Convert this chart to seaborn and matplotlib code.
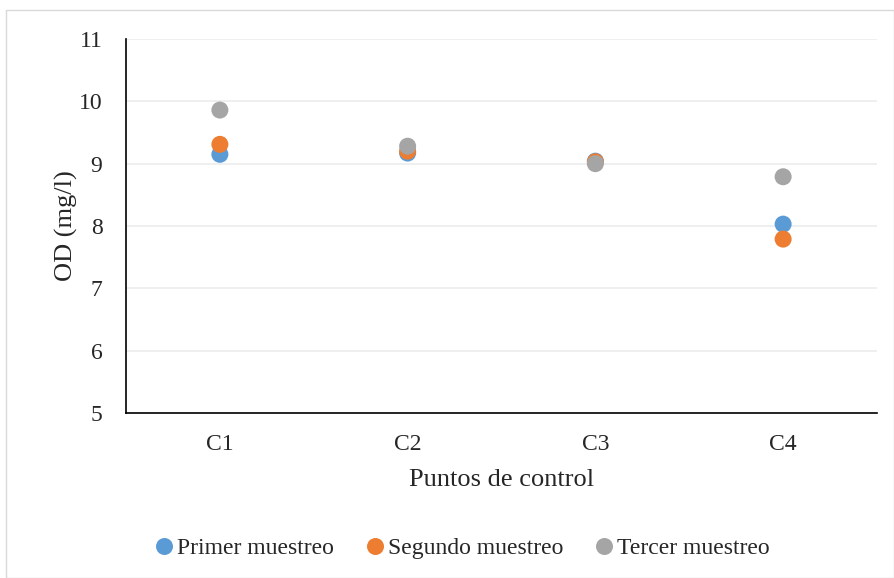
import matplotlib
matplotlib.use("Agg")
import matplotlib.pyplot as plt
import seaborn as sns
import pandas as pd
from matplotlib.patches import Rectangle

# Dissolved oxygen per control point and sampling campaign
puntos = ["C1", "C2", "C3", "C4"]
primer = [9.15, 9.17, 9.04, 8.03]
segundo = [9.31, 9.20, 9.03, 7.79]
tercer = [9.86, 9.28, 9.00, 8.79]
series = ["Primer muestreo", "Segundo muestreo", "Tercer muestreo"]
colores = ["#5B9BD5", "#ED7D31", "#A5A5A5"]
y_ticks = [5, 6, 7, 8, 9, 10, 11]

rows = []
for nombre, vals in zip(series, [primer, segundo, tercer]):
    for i, (p, v) in enumerate(zip(puntos, vals)):
        rows.append({"pos": i + 1, "punto": p, "OD": v, "serie": nombre})
df = pd.DataFrame(rows)

sns.set_theme(style="white")
plt.rcParams["font.family"] = ["Liberation Serif", "DejaVu Serif"]

fig = plt.figure(figsize=(8.94, 5.78), dpi=100)
W, H = 894, 578
ax = fig.add_axes([126 / W, 1 - 413 / H, (877 - 126) / W, (413 - 39) / H])

sns.scatterplot(data=df, x="pos", y="OD", hue="serie", hue_order=series,
                palette=colores, s=150, linewidth=0, ax=ax, zorder=3)

ax.set_xlim(0.5, 4.5)
ax.set_ylim(5, 11)
ax.set_yticks(y_ticks)
ax.set_yticklabels([str(t) for t in y_ticks], fontsize=17)
ax.set_xticks(range(1, len(puntos) + 1))
ax.set_xticklabels(puntos, fontsize=17)
ax.tick_params(axis="y", length=0, pad=17)
ax.tick_params(axis="x", length=0, pad=15)
ax.yaxis.grid(True, color="#ececec", linewidth=1.2)
ax.set_axisbelow(True)
for side in ["top", "right"]:
    ax.spines[side].set_visible(False)
for side in ["left", "bottom"]:
    ax.spines[side].set_color("black")
    ax.spines[side].set_linewidth(1.2)

ax.set_xlabel("Puntos de control", fontsize=19, labelpad=10)
ax.set_ylabel("OD (mg/l)", fontsize=19, labelpad=0.5)

handles, labels = ax.get_legend_handles_labels()
ax.legend_.remove()
leg = fig.legend(handles, labels, loc="center", bbox_to_anchor=(455 / W, 1 - 548 / H),
                 ncol=3, frameon=False, fontsize=17, handletextpad=-0.45,
                 columnspacing=0.75, markerscale=1.0)

# outer chart frame
fig.patches.append(Rectangle((6 / W, 0.5 / H), (W - 6.5) / W, (H - 10.5) / H,
                             transform=fig.transFigure, fill=False,
                             edgecolor="#d9d9d9", linewidth=1))

fig.savefig("out.png", dpi=100)
